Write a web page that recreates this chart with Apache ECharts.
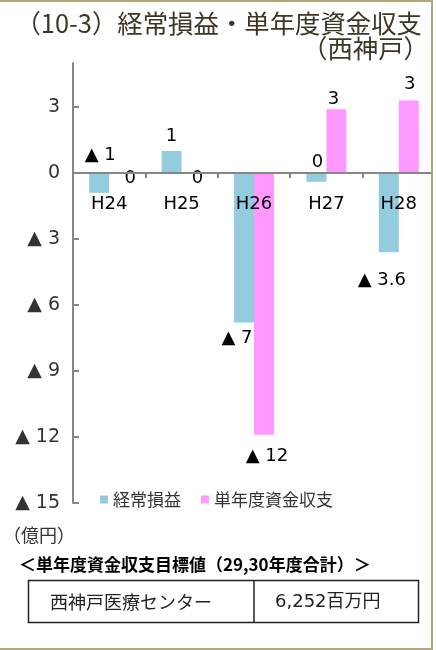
<!DOCTYPE html>
<html>
<head>
<meta charset="utf-8">
<script src="https://cdn.jsdelivr.net/npm/echarts@6/dist/echarts.min.js"></script>
<style>
  html, body { margin: 0; padding: 0; background: #fff; }
  #chart { width: 436px; height: 650px; }
</style>
</head>
<body>
<div id="chart"></div>
<script>
// Fiscal years (Heisei)
const categories = ['H24', 'H25', 'H26', 'H27', 'H28'];
// 経常損益 (億円)
const ordinaryProfit = [-0.9, 1.0, -6.8, -0.4, -3.6];
// 単年度資金収支 (億円)
const annualCashBalance = [0, 0, -11.9, 2.9, 3.3];
// decimals shown in each bar's value label
const ordinaryProfitDigits = [0, 0, 0, 0, 1];
const annualCashBalanceDigits = [0, 0, 0, 0, 0];
// value-axis ticks
const yMin = -15;
const yMax = 5;
const yStep = 3;
const yTicks = [-15, -12, -9, -6, -3, 0, 3];

const seriesNames = ['経常損益', '単年度資金収支'];
const titleLine1 = '（10-3）経常損益・単年度資金収支';
const titleLine2 = '（西神戸）';
const unitText = '（億円）';
const targetHeading = '＜単年度資金収支目標値（29,30年度合計）＞';
const targetName = '西神戸医療センター';
const targetValue = '6,252百万円';

// label placement per bar (position, distance, offset)
const profitLabelPlacement = [
  { position: 'top', distance: 9, offset: [1, 0] },
  { position: 'top', distance: 6, offset: [0, 0] },
  { position: 'bottom', distance: 7, offset: [-7, 0] },
  { position: 'top', distance: 2, offset: [1, 0] },
  { position: 'bottom', distance: 19, offset: [-7, 0] }
];
const cashLabelPlacement = [
  { position: 'inside', distance: 0, offset: [11, 5] },
  { position: 'inside', distance: 0, offset: [6, 5] },
  { position: 'bottom', distance: 13, offset: [3, 0] },
  { position: 'top', distance: 1, offset: [-3, 0] },
  { position: 'top', distance: 7, offset: [1, 0] }
];

const LATIN = "'DejaVu Sans','Noto Sans CJK JP',sans-serif";
const CJK = "'Noto Sans CJK JP','DejaVu Sans',sans-serif";
const AXIS_GRAY = '#868686';

const GRID_TOP = 63;
const GRID_BOTTOM = 147;
const CHART_H = 650;

function fmtValue(v, digits) {
  const r = Number(Math.abs(v).toFixed(digits));
  if (r === 0) return '0';
  return (v < 0 ? '▲ ' : '') + r.toFixed(digits);
}

function buildData(values, digits, placement) {
  return values.map((v, i) => ({
    value: v,
    label: {
      position: placement[i].position,
      distance: placement[i].distance,
      offset: placement[i].offset,
      formatter: () => fmtValue(v, digits[i])
    }
  }));
}

// the category axis sits on the zero line of the value axis
const plotH = CHART_H - GRID_TOP - GRID_BOTTOM;
const zeroOffset = -plotH * (0 - yMin) / (yMax - yMin);

const chart = echarts.init(document.getElementById('chart'), null, { renderer: 'canvas' });

const barLabel = {
  show: true,
  color: '#000',
  fontFamily: LATIN,
  fontSize: 18
};

chart.setOption({
  animation: false,
  grid: { left: 73, top: GRID_TOP, bottom: GRID_BOTTOM, width: 362, containLabel: false },
  legend: {
    data: seriesNames,
    left: 95,
    top: 486,
    itemWidth: 8,
    itemHeight: 8,
    itemGap: 20,
    icon: 'rect',
    textStyle: { fontFamily: CJK, fontSize: 17, color: '#333' }
  },
  xAxis: {
    type: 'category',
    data: categories,
    position: 'bottom',
    offset: zeroOffset,
    z: 10,
    axisLine: { onZero: false, lineStyle: { color: AXIS_GRAY, width: 2 } },
    axisTick: { show: true, length: 5, lineStyle: { color: AXIS_GRAY, width: 2 } },
    axisLabel: { margin: 22, color: '#000', fontFamily: LATIN, fontSize: 18 },
    splitLine: { show: false }
  },
  yAxis: {
    type: 'value',
    min: yMin,
    max: yMax,
    interval: yStep,
    axisLine: { show: true, lineStyle: { color: AXIS_GRAY, width: 2 } },
    axisTick: { show: true, inside: true, length: 6, customValues: yTicks, lineStyle: { color: AXIS_GRAY, width: 2 } },
    axisLabel: {
      margin: 13,
      color: '#333',
      fontFamily: LATIN,
      fontSize: 19,
      formatter: v => (yTicks.indexOf(v) >= 0 ? fmtValue(v, 0) : '')
    },
    splitLine: { show: false }
  },
  series: [
    {
      name: seriesNames[0],
      type: 'bar',
      barWidth: 20,
      barGap: '0%',
      itemStyle: { color: '#93cddd' },
      label: barLabel,
      data: buildData(ordinaryProfit, ordinaryProfitDigits, profitLabelPlacement)
    },
    {
      name: seriesNames[1],
      type: 'bar',
      barWidth: 20,
      barGap: '0%',
      itemStyle: { color: '#ff99ff' },
      label: barLabel,
      data: buildData(annualCashBalance, annualCashBalanceDigits, cashLabelPlacement)
    }
  ],
  graphic: [
    {
      type: 'text',
      style: {
        x: 422, y: 23, text: titleLine1, textAlign: 'right', textVerticalAlign: 'middle',
        font: "25.4px 'Noto Sans CJK JP'", fill: '#3d3526'
      }
    },
    {
      type: 'text',
      style: {
        x: 429, y: 48, text: titleLine2, textAlign: 'right', textVerticalAlign: 'middle',
        font: "25.4px 'Noto Sans CJK JP'", fill: '#3d3526'
      }
    },
    {
      type: 'text',
      style: {
        x: 3, y: 535, text: unitText, textVerticalAlign: 'middle',
        font: "18px 'Noto Sans CJK JP'", fill: '#333'
      }
    },
    {
      type: 'text',
      style: {
        x: 19, y: 565, text: targetHeading, textVerticalAlign: 'middle',
        font: "bold 17px 'Noto Sans CJK JP'", fill: '#000'
      }
    },
    {
      type: 'rect',
      shape: { x: 28.5, y: 580.5, width: 390, height: 42 },
      style: { fill: 'none', stroke: '#222', lineWidth: 1.5 }
    },
    {
      type: 'line',
      shape: { x1: 254, y1: 580.5, x2: 254, y2: 622.5 },
      style: { stroke: '#222', lineWidth: 1.5 }
    },
    {
      type: 'text',
      style: {
        x: 50, y: 602, text: targetName, textVerticalAlign: 'middle',
        font: "18px 'Noto Sans CJK JP'", fill: '#222'
      }
    },
    {
      type: 'text',
      style: {
        x: 275, y: 602, text: targetValue, textVerticalAlign: 'middle',
        font: "18px 'DejaVu Sans','Noto Sans CJK JP'", fill: '#222'
      }
    },
    {
      type: 'polyline',
      z: 100,
      shape: { points: [[0, 1], [432, 1], [432, 649], [0, 649]] },
      style: { fill: 'none', stroke: '#b3a878', lineWidth: 2 }
    },
    {
      type: 'rect',
      z: 99,
      shape: { x: 433, y: 0, width: 3, height: 650 },
      style: { fill: '#fff' }
    }
  ]
});
</script>
</body>
</html>
